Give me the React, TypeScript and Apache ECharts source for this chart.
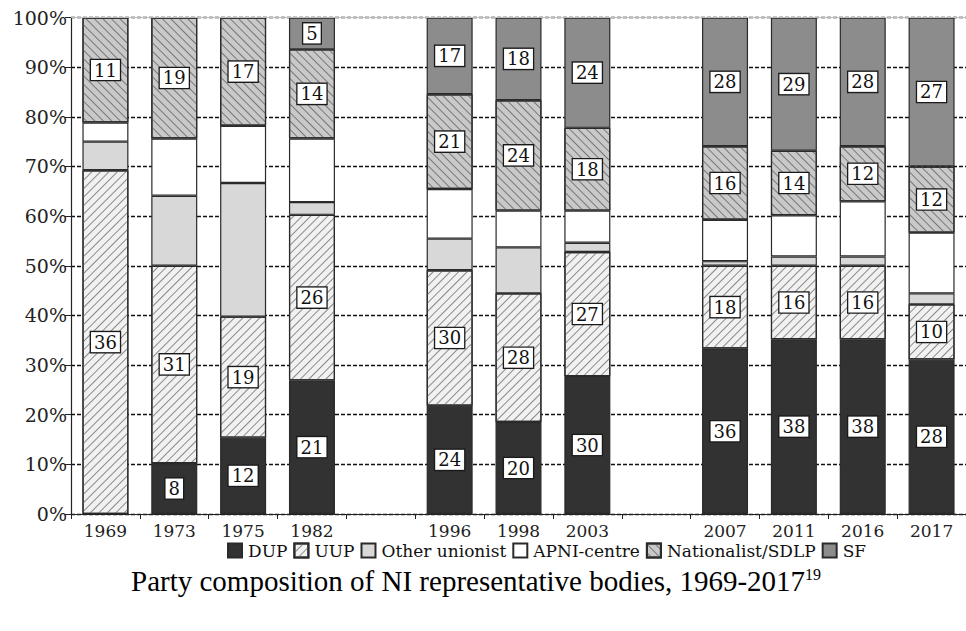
import React, { useEffect, useRef } from 'react';
import * as echarts from 'echarts';

// Seats per party in each body (bars show share of seats, labels show seats)
const categories = ['1969', '1973', '1975', '1982', '', '1996', '1998', '2003', '', '2007', '2011', '2016', '2017'];
const dupSeats = [0, 8, 12, 21, null, 24, 20, 30, null, 36, 38, 38, 28];
const uupSeats = [36, 31, 19, 26, null, 30, 28, 27, null, 18, 16, 16, 10];
const otherUnionistSeats = [3, 11, 21, 2, null, 7, 10, 2, null, 1, 2, 2, 2];
const apniSeats = [2, 9, 9, 10, null, 11, 8, 7, null, 9, 9, 12, 11];
const nationalistSeats = [11, 19, 17, 14, null, 21, 24, 18, null, 16, 14, 12, 12];
const sfSeats = [0, 0, 0, 5, null, 17, 18, 24, null, 28, 29, 28, 27];
const seriesNames = ['DUP', 'UUP', 'Other unionist', 'APNI-centre', 'Nationalist/SDLP', 'SF'];
const captionText = 'Party composition of NI representative bodies, 1969-2017';
const captionNote = '19';

const AXIS_FONT = 'DejaVu Serif';

export default function App() {
  const ref = useRef<HTMLDivElement>(null);
  useEffect(() => {
    if (!ref.current) return;
    const chart = echarts.init(ref.current, null, { renderer: 'svg' });
    const all = [dupSeats, uupSeats, otherUnionistSeats, apniSeats, nationalistSeats, sfSeats];
    const totals = categories.map((_, i) => all.reduce((s, a) => s + ((a[i] as number) || 0), 0));
    const pct = (arr: (number | null)[]) =>
      arr.map((v, i) => (v == null || v === 0 ? null : (v / totals[i]) * 100));

    const styles = [
      { color: '#323232', decal: null, labelled: true },
      {
        color: '#f1f1f1',
        decal: { symbol: 'rect', dashArrayX: [1, 0], dashArrayY: [1, 5], rotation: -Math.PI / 4, color: '#8a8a8a' },
        labelled: true,
      },
      { color: '#d8d8d8', decal: null, labelled: false },
      { color: '#ffffff', decal: null, labelled: false },
      {
        color: '#c9c9c9',
        decal: { symbol: 'rect', dashArrayX: [1, 0], dashArrayY: [1, 5], rotation: Math.PI / 4, color: '#777777' },
        labelled: true,
      },
      { color: '#8c8c8c', decal: null, labelled: true },
    ];

    const series: any[] = all.map((arr, k) => {
      const st = styles[k];
      const itemStyle: any = { color: st.color, borderColor: '#2a2a2a', borderWidth: 1.2 };
      if (st.decal) itemStyle.decal = st.decal;
      return {
        name: seriesNames[k],
        type: 'bar',
        stack: 'total',
        barWidth: 46,
        data: pct(arr),
        itemStyle,
        label: {
          show: st.labelled,
          position: 'inside',
          formatter: (p: any) => (arr[p.dataIndex] ? String(arr[p.dataIndex]) : ''),
          color: '#111',
          fontFamily: AXIS_FONT,
          fontSize: 18,
          lineHeight: 19,
          backgroundColor: '#ffffff',
          borderColor: '#1a1a1a',
          borderWidth: 1.3,
          padding: [1, 3, 0, 3],
        },
        ...(k === 0
          ? {
              markLine: {
                silent: true,
                symbol: 'none',
                label: { show: false },
                lineStyle: { color: '#bdbdbd', type: 'solid', width: 1.2 },
                data: [{ yAxis: 100 }],
              },
            }
          : {}),
      };
    });

    chart.setOption({
      animation: false,
      backgroundColor: '#ffffff',
      grid: { left: 71, top: 17.5, width: 900, height: 496.5, containLabel: false },
      legend: {
        data: seriesNames,
        left: 222,
        top: 537,
        icon: 'rect',
        itemWidth: 14,
        itemHeight: 14,
        itemGap: 6,
        textStyle: { fontFamily: AXIS_FONT, fontSize: 17, color: '#111', padding: [0, 0, 0, 1] },
      },
      title: {
        text: `{a|${captionText}}{s|${captionNote}}`,
        left: 126,
        top: 561,
        textStyle: {
          fontWeight: 'normal',
          rich: {
            a: { fontFamily: 'Liberation Serif', fontWeight: 'normal', fontSize: 29, color: '#000', lineHeight: 30 },
            s: { fontFamily: 'Liberation Serif', fontWeight: 'normal', fontSize: 16, color: '#000', verticalAlign: 'top', lineHeight: 16 },
          },
        },
      },
      xAxis: {
        type: 'category',
        data: categories,
        boundaryGap: true,
        axisLine: { lineStyle: { color: '#222', width: 1.2 } },
        axisTick: { show: true, alignWithLabel: false, length: 5, lineStyle: { color: '#222' } },
        axisLabel: { color: '#222', fontFamily: AXIS_FONT, fontSize: 17, margin: 8, interval: 0 },
        splitLine: { show: false },
      },
      yAxis: {
        type: 'value',
        min: 0,
        max: 100,
        interval: 10,
        axisLine: { show: true, lineStyle: { color: '#222', width: 1.2 } },
        axisTick: { show: true, length: 6, lineStyle: { color: '#222' } },
        axisLabel: { formatter: '{value}%', color: '#222', fontFamily: AXIS_FONT, fontSize: 19, margin: 4 },
        splitLine: { show: true, lineStyle: { color: '#111', type: [4, 2], width: 1.3 } },
      },
      series,
    });
    return () => chart.dispose();
  }, []);
  return <div ref={ref} style={{ position: 'absolute', left: 0, top: 0, width: 966, height: 631 }} />;
}
